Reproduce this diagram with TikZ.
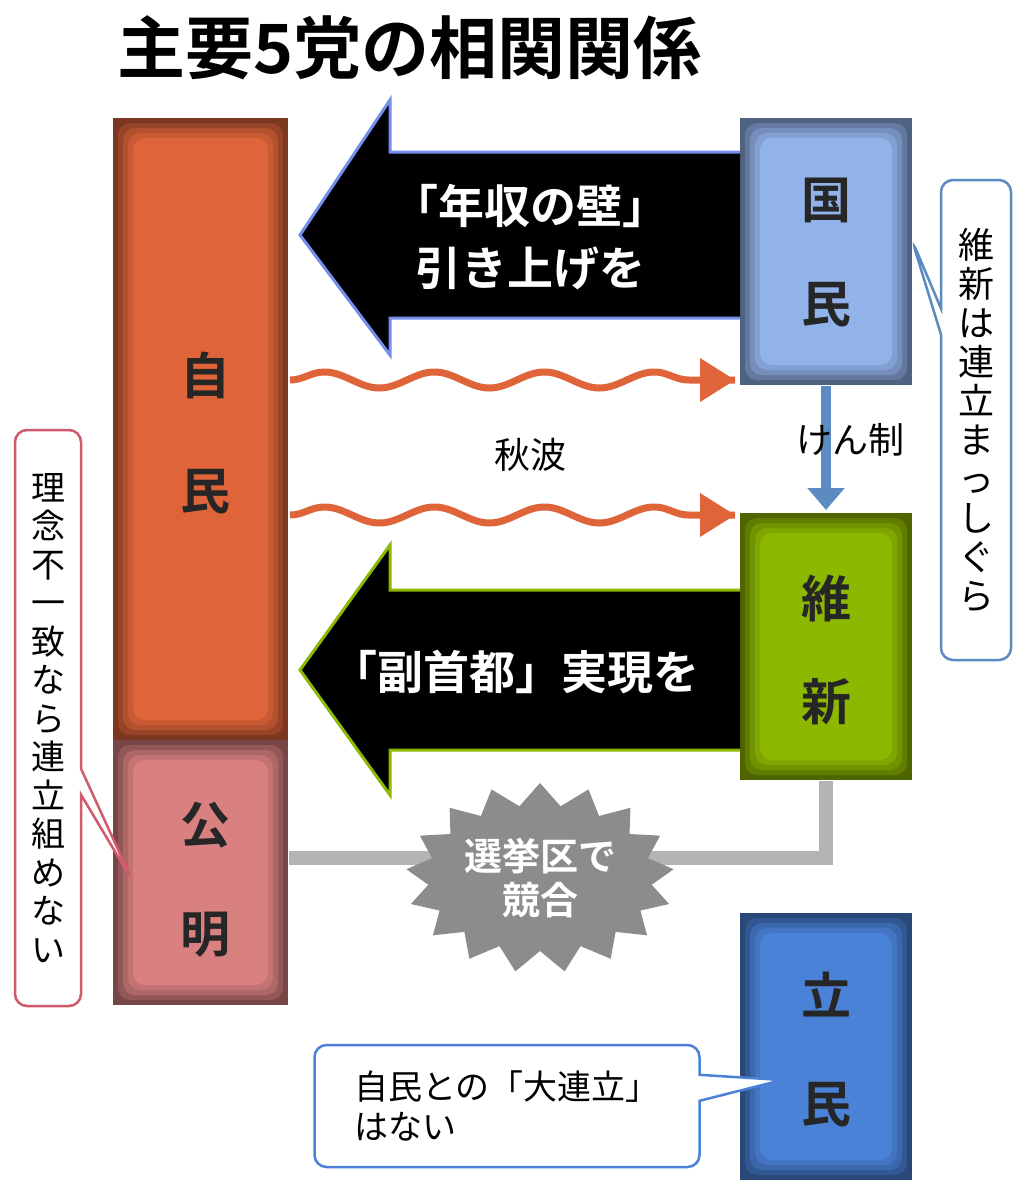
\documentclass[tikz,border=0pt]{standalone}
\usepackage{fontspec}
\setmainfont{Noto Sans CJK JP}[BoldFont={Noto Sans CJK JP Bold}]
\usetikzlibrary{positioning, arrows.meta, decorations.pathmorphing, shapes.symbols, shapes.callouts, calc}
\definecolor{jimin}{HTML}{E0643A}
\definecolor{komei}{HTML}{D98080}
\definecolor{kokumin}{HTML}{92B2EA}
\definecolor{ishin}{HTML}{8DB800}
\definecolor{rikken}{HTML}{4A82D8}
\definecolor{glinie}{HTML}{B4B4B4}
\definecolor{kensei}{HTML}{5B8BC0}
\tikzset{
	party/.style={font=\bfseries\fontsize{50}{60}\selectfont, text=black!85},
	msg/.style={font=\bfseries\fontsize{46}{62}\selectfont, text=white, align=center},
	note/.style={font=\fontsize{34}{40}\selectfont, align=center, fill=white, draw, line width=2.5pt,
		rounded corners=12pt, rectangle callout, callout pointer width=26pt},
	wave/.style={jimin, line width=7pt, decorate, decoration={snake, amplitude=8pt, segment length=110pt, post length=30pt}},
}
\newcommand\partybox[4]{% name, color, x1/y1, x2/y2
	\fill[#2!55!black] (#3) rectangle (#4);
	\foreach \d/\m in {5/68, 10/80, 15/90, 20/100}
		\fill[#2!\m!black, rounded corners=12pt] ($(#3)+(\d,\d)$) rectangle ($(#4)+(-\d,-\d)$);
	\coordinate (#1a) at (#3); \coordinate (#1b) at (#4);
}
\begin{document}
\begin{tikzpicture}[x=1pt, y=-1pt]
	\useasboundingbox (0,0) rectangle (1032,1200);
	\fill[white] (0,0) rectangle (1032,1200);
	% title
	\node[font=\bfseries\fontsize{68}{76}\selectfont, anchor=west] (title) at (114,48) {主要5党の相関関係};

	% boxes
	\partybox{jm}{jimin}{113,118}{288,740}
	\partybox{km}{komei}{113,740}{288,1005}
	\partybox{kk}{kokumin}{740,118}{912,385}
	\partybox{is}{ishin}{740,513}{912,780}
	\partybox{rk}{rikken}{740,913}{912,1180}
	\node[party] (jm1) at (205,375) {自};
	\node[party] (jm2) at (205,492) {民};
	\node[party] (km1) at (205,825) {公};
	\node[party] (km2) at (205,935) {明};
	\node[party] (kk1) at (826,200) {国};
	\node[party] (kk2) at (826,305) {民};
	\node[party] (is1) at (826,598) {維};
	\node[party] (is2) at (826,702) {新};
	\node[party] (rk1) at (826,995) {立};
	\node[party] (rk2) at (826,1105) {民};

	% big arrows
	\draw[kokumin!80!blue, line width=3pt, fill=black] (740,152) -- (390,152) -- (390,100) -- (300,235)
		-- (390,355) -- (390,318) -- (740,318);
	\node[msg] (kabe) at (530,237) {「年収の壁」\\引き上げを};
	\draw[ishin, line width=3pt, fill=black] (740,590) -- (390,590) -- (390,545) -- (300,670)
		-- (390,795) -- (390,750) -- (740,750);
	\node[msg] (fuku) at (515,672) {「副首都」実現を};

	% waves
	\coordinate (w1s) at (290,380); \coordinate (w1e) at (735,380);
	\coordinate (w2s) at (290,515); \coordinate (w2e) at (735,515);
	\draw[wave] (w1s) -- (w1e);
	\draw[wave] (w2s) -- (w2e);
	\fill[jimin] (735,380) -- (700,358) -- (700,402) -- cycle;
	\fill[jimin] (735,515) -- (700,493) -- (700,537) -- cycle;
	\node[font=\fontsize{36}{40}\selectfont] (shuha) at (530,455) {秋波};

	% kensei
	\draw[kensei, line width=10pt, -{Triangle[length=22pt, width=36pt]}] (826,386) -- (826,510);
	\node[font=\fontsize{36}{40}\selectfont] (kense) at (850,440) {けん制};

	% competition line
	\coordinate (kmr) at (289,858); \coordinate (isb) at (826,781);
	\draw[glinie, line width=14pt] (kmr) -- (826,858) -- (isb);
	\node[starburst, starburst points=17, starburst point height=22pt, random starburst=0,
		fill=black!45, minimum width=240pt, minimum height=190pt,
		font=\bfseries\fontsize{38}{44}\selectfont, text=white, align=center] (kyogo) at (540,878) {選挙区で\\競合};

	% notes
	\node[note, draw=kensei, callout absolute pointer={(912,240)},
		minimum width=70pt, minimum height=480pt, inner sep=2pt, font=\fontsize{36}{39}\selectfont]
		(n1) at (976,420) {維\\新\\は\\連\\立\\ま\\っ\\し\\ぐ\\ら};
	\node[note, draw=komei!70!purple, callout absolute pointer={(132,880)},
		minimum width=66pt, minimum height=576pt, inner sep=2pt, font=\fontsize{34}{38.5}\selectfont]
		(n2) at (48,718) {理\\念\\不\\一\\致\\な\\ら\\連\\立\\組\\め\\な\\い};
	\node[note, draw=rikken, callout absolute pointer={(782,1080)},
		minimum width=385pt, minimum height=122pt, align=left]
		(n3) at (507,1106) {自民との「大連立」\\はない};
\end{tikzpicture}
\end{document}
